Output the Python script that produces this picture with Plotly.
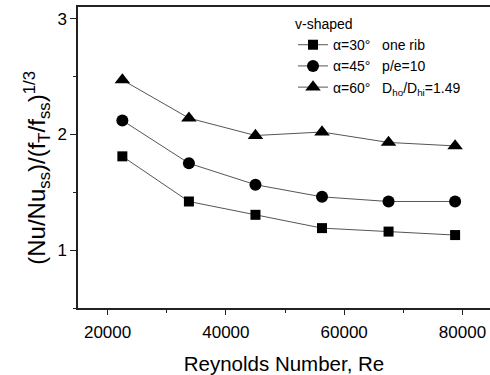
import plotly.graph_objects as go

re_vals = [22500, 33750, 45000, 56250, 67500, 78750]
y30 = [1.81, 1.42, 1.305, 1.19, 1.16, 1.13]
y45 = [2.12, 1.75, 1.565, 1.46, 1.42, 1.42]
y60 = [2.47, 2.14, 1.99, 2.02, 1.93, 1.90]
names = ["α=30°   one rib", "α=45°   p/e=10", "α=60°   D<sub>ho</sub>/D<sub>hi</sub>=1.49"]
symbols = ["square", "circle", "triangle-up"]
sizes = [10, 12, 13.5]

FONT = "Liberation Sans, Arial, sans-serif"
fig = go.Figure()
for ys, nm, sym, sz in zip([y30, y45, y60], names, symbols, sizes):
    fig.add_trace(go.Scatter(
        x=re_vals, y=ys, name=nm, mode="lines+markers",
        line=dict(color="#555", width=1),
        marker=dict(symbol=sym, size=sz, color="black", line=dict(width=0)),
    ))

W, H = 490, 375
L, R, T, B = 78, 0, 7, 61
fig.update_layout(
    width=W, height=H,
    margin=dict(l=L, r=R, t=T, b=B, pad=0),
    plot_bgcolor="white", paper_bgcolor="white",
    font=dict(family=FONT, color="black", size=17),
    showlegend=True,
    legend=dict(
        x=(293 - L) / (W - L - R), y=(314 - 11) / (314 - 7),
        xanchor="left", yanchor="top",
        bgcolor="rgba(0,0,0,0)", borderwidth=0,
        font=dict(size=14, family=FONT),
        title=dict(text="v-shaped", font=dict(size=14, family=FONT)),
        itemwidth=30, tracegroupgap=0,
    ),
    xaxis=dict(
        range=[15000, 84650], showgrid=False, zeroline=False,
        showline=True, linecolor="#222", linewidth=1.5, mirror=True,
        ticks="outside", ticklen=5, tickwidth=1, tickcolor="#222",
        tick0=0, dtick=20000, tickformat="d", ticklabelstandoff=3,
        tickfont=dict(size=17, family=FONT),
        minor=dict(dtick=10000, tick0=0, ticks="outside", ticklen=3, tickcolor="#222"),
        title=dict(text="Reynolds Number, Re", font=dict(size=20.5, family=FONT), standoff=18),
    ),
    yaxis=dict(
        range=[0.5, 3.1], showgrid=False, zeroline=False,
        showline=True, linecolor="#222", linewidth=1.5,
        ticks="outside", ticklen=6, tickwidth=1, tickcolor="#222",
        tick0=0, dtick=1, tickfont=dict(size=17, family=FONT),
        minor=dict(dtick=0.5, tick0=0, ticks="outside", ticklen=3, tickcolor="#222"),
    ),
)
fig.add_annotation(
    text="(Nu/Nu<sub>ss</sub>)/(f<sub>T</sub>/f<sub>ss</sub>)<sup>1/3</sup>",
    xref="paper", yref="paper",
    x=(37 - L) / (W - L - R), y=(314 - 171) / (314 - 7),
    xanchor="center", yanchor="middle", textangle=-90, showarrow=False,
    font=dict(size=24, family=FONT),
)
fig.write_html("out.html")
